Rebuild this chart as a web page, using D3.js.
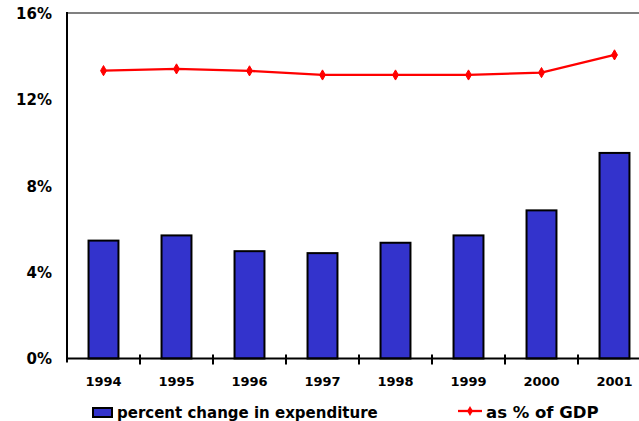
<!DOCTYPE html>
<html>
<head>
<meta charset="utf-8">
<script src="https://cdn.jsdelivr.net/npm/d3@7"></script>
<style>
  html, body { margin: 0; padding: 0; background: #fff; }
  svg { display: block; }
  text { font-family: "DejaVu Sans", Verdana, sans-serif; font-weight: bold; fill: #000; }
</style>
</head>
<body>
<svg id="chart" width="639" height="421"></svg>
<script>
// Health expenditure, 1994-2001
const years = ["1994", "1995", "1996", "1997", "1998", "1999", "2000", "2001"];
const pctChange = [5.46, 5.70, 4.97, 4.88, 5.36, 5.70, 6.86, 9.52];
const pctOfGDP = [13.33, 13.41, 13.32, 13.13, 13.13, 13.13, 13.24, 14.06];
const yTicks = [0, 4, 8, 12, 16];
const seriesNames = ["percent change in expenditure", "as % of GDP"];

const svg = d3.select("#chart");
const plotLeft = 67, plotTop = 13, plotBottom = 358.5;
const bandW = 73;

const x = d3.scaleBand().domain(years).range([plotLeft, plotLeft + bandW * years.length]).paddingInner(0.59).paddingOuter(0.295);
const xc = d3.scalePoint().domain(years).range([plotLeft + bandW / 2, plotLeft + bandW * (years.length - 0.5)]);
const y = d3.scaleLinear().domain([0, 16]).range([plotBottom, plotTop]);

// top frame line
svg.append("line").attr("x1", plotLeft).attr("x2", 639).attr("y1", plotTop).attr("y2", plotTop)
  .attr("stroke", "#808080").attr("stroke-width", 2);

// bars
svg.append("g").selectAll("rect").data(years).join("rect")
  .attr("x", d => x(d))
  .attr("width", x.bandwidth())
  .attr("y", (d, i) => y(pctChange[i]))
  .attr("height", (d, i) => y(0) - y(pctChange[i]))
  .attr("fill", "#3333cc").attr("stroke", "#000").attr("stroke-width", 2);

// y axis
const yAxis = svg.append("g").attr("transform", `translate(${plotLeft},0)`)
  .call(d3.axisLeft(y).tickValues(yTicks).tickFormat(d => d + "%").tickSize(0).tickPadding(15));
yAxis.select(".domain").remove();
yAxis.selectAll("text").attr("font-size", 15).attr("dy", "0.35em");
svg.append("line").attr("x1", plotLeft).attr("x2", plotLeft).attr("y1", plotTop - 1).attr("y2", plotBottom + 4)
  .attr("stroke", "#000").attr("stroke-width", 2);

// x axis
const xAxis = svg.append("g").attr("transform", `translate(0,${plotBottom})`)
  .call(d3.axisBottom(x).tickSize(0).tickPadding(18));
xAxis.select(".domain").remove();
xAxis.selectAll("text").attr("font-size", 13);
svg.append("line").attr("x1", plotLeft - 1).attr("x2", 639).attr("y1", plotBottom).attr("y2", plotBottom)
  .attr("stroke", "#000").attr("stroke-width", 2.2);
svg.append("g").selectAll("line").data(d3.range(1, years.length)).join("line")
  .attr("x1", i => plotLeft + bandW * i).attr("x2", i => plotLeft + bandW * i)
  .attr("y1", plotBottom - 4).attr("y2", plotBottom + 6)
  .attr("stroke", "#000").attr("stroke-width", 2);

// GDP share line
const line = d3.line().x((d, i) => xc(years[i])).y(d => y(d));
svg.append("path").datum(pctOfGDP).attr("d", line)
  .attr("fill", "none").attr("stroke", "#ff0000").attr("stroke-width", 2.3);
const diamond = d3.symbol().type(d3.symbolDiamond).size(30);
svg.append("g").selectAll("path").data(pctOfGDP).join("path")
  .attr("transform", (d, i) => `translate(${xc(years[i])},${y(d)})`)
  .attr("d", diamond).attr("fill", "#ff0000").attr("stroke", "#ff0000").attr("stroke-width", 1);

// legend
const lg = svg.append("g");
lg.append("rect").attr("x", 93).attr("y", 408).attr("width", 19).attr("height", 9)
  .attr("fill", "#3333cc").attr("stroke", "#000").attr("stroke-width", 2);
lg.append("text").attr("x", 117).attr("y", 418).attr("font-size", 15).text(seriesNames[0]);
lg.append("line").attr("x1", 458).attr("x2", 482).attr("y1", 411).attr("y2", 411)
  .attr("stroke", "#ff0000").attr("stroke-width", 2.3);
lg.append("path").attr("transform", "translate(470,411)").attr("d", diamond).attr("fill", "#ff0000");
lg.append("text").attr("x", 486).attr("y", 418).attr("font-size", 16.5).text(seriesNames[1]);
</script>
</body>
</html>
